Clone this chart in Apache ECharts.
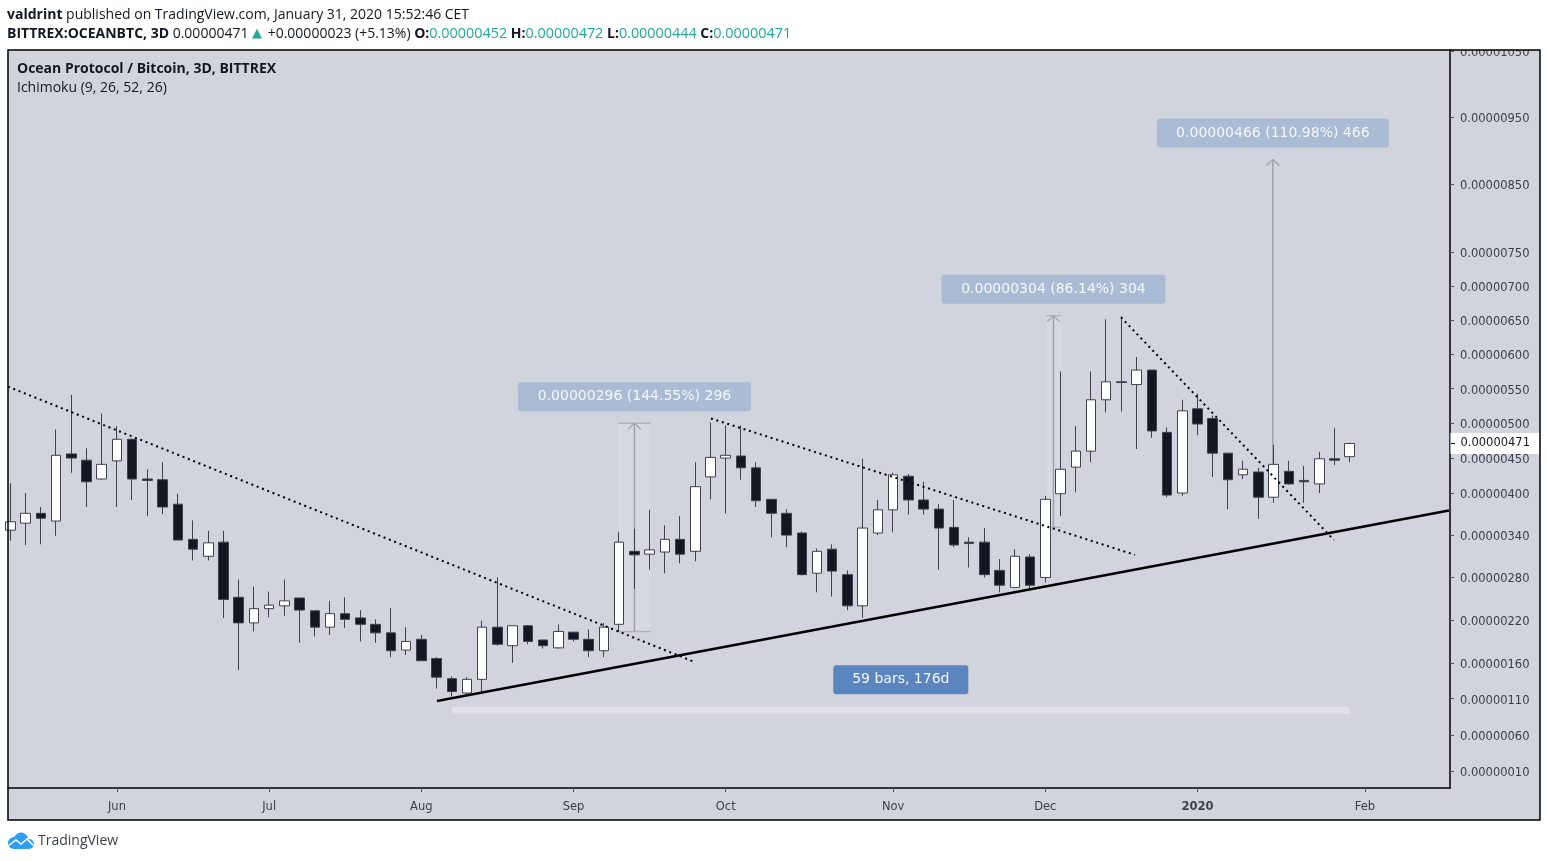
<!DOCTYPE html>
<html>
<head>
<meta charset="utf-8">
<title>OCEANBTC</title>
<script src="https://cdn.jsdelivr.net/npm/echarts@6/dist/echarts.min.js"></script>
<style>
html,body{margin:0;padding:0;background:#fff}
#chart{width:1547px;height:861px}
</style>
</head>
<body>
<div id="chart"></div>
<script>
// prices are in satoshi (1e-8 BTC), one entry per 3D bar
var opens = [347,357,371,360,456,447,420,446,477,420,419,384,334,310,330,252,216,236,240,251,233,210,229,223,214,202,178,193,166,138,118,137,210,184,212,192,181,203,193,177,214,317,313,316,334,317,423,450,453,436,391,371,343,286,320,284,240,343,376,424,390,377,351,330,330,290,266,309,280,399,437,460,534,560,556,577,487,400,521,507,457,426,430,394,431,418,413,449,452];
var closes = [359,371,364,454,450,416,441,477,420,418,380,333,320,329,249,216,236,241,247,234,210,229,221,214,202,177,190,163,140,120,137,210,186,212,190,184,204,193,177,210,330,312,319,334,313,409,451,454,436,389,371,340,284,317,289,240,350,376,426,390,377,350,326,328,284,269,310,269,391,434,460,534,560,559,577,489,397,518,499,457,419,434,394,441,413,416,449,447,471];
var highs = [414,400,380,491,541,464,514,496,478,434,444,399,361,346,346,277,267,260,277,251,233,247,252,234,221,237,210,199,168,141,140,219,280,212,213,192,214,203,207,216,344,349,376,354,367,444,501,497,497,444,391,377,345,321,327,290,449,390,429,427,416,384,390,337,350,306,320,313,396,575,496,575,651,655,596,577,494,534,543,511,457,446,436,469,446,439,459,493,472];
var lows = [332,326,327,339,429,380,419,380,390,367,370,333,304,304,223,150,204,224,226,188,197,199,209,190,188,168,171,163,124,113,116,120,184,160,186,180,180,190,168,168,203,264,291,286,300,303,391,371,419,380,337,323,283,259,253,234,223,340,344,369,369,291,323,294,280,259,265,263,273,367,401,444,516,517,463,479,394,396,483,423,377,420,363,386,412,386,400,440,444];

var priceTicks = [10,60,110,160,220,280,340,400,450,500,550,600,650,700,750,850,950,1050];
var lastPrice = 471;

// bar index of every labelled month on the time axis
var timeTickBars = [7,17,27,37,47,58,68,78,89];
var timeTickNames = ['Jun','Jul','Aug','Sep','Oct','Nov','Dec','2020','Feb'];

// trend lines as [bar index, price]
var trendSolid = [[28.03,107],[94.52,375]];
var trendDotted1 = [[-0.158,553],[44.98,161]];
var trendDotted2 = [[46.03,507],[73.89,312]];
var trendDotted3 = [[72.97,654],[86.97,333]];

// price range tools
var measureFrom = [39.92,68.04,82.95];
var measureTo = [42.09,69.03,82.95];
var measureLow = [204,351,421];
var measureHigh = [500,656,887];
var measureText = ['0.00000296 (144.55%) 296','0.00000304 (86.14%) 304','0.00000466 (110.98%) 466'];
var measureWidth = [233,224,232];

// date range tool
var rangeBars = [29.01,88.0];
var rangePrices = [89,99];
var rangeText = '59 bars, 176d';

// the price axis is very slightly compressed upward, like the original
var AXIS_SHIFT = 10500;
function toAxis(p){ return Math.log(p + AXIS_SHIFT); }
function fromAxis(v){ return Math.round(Math.exp(v) - AXIS_SHIFT); }
var AXIS_SPAN = 7630;

var FONT = '"Open Sans", sans-serif';
var TICK_FONT = '"DejaVu Sans", sans-serif';
var GREY = '#3f424d';
var TOOL = '#9fa2ac';

var candleData = opens.map(function(o,i){
    return [i,toAxis(o),toAxis(closes[i]),toAxis(lows[i]),toAxis(highs[i])];
});
function pts(a){ return a.map(function(d){ return [d[0],toAxis(d[1])]; }); }

var series = [{
    type:'line', silent:true, symbol:'none', data:[], z:1,
    markArea:{silent:true, itemStyle:{color:'rgba(255,255,255,0.3)'},
        data:[[{coord:[rangeBars[0],toAxis(rangePrices[0])]},{coord:[rangeBars[1],toAxis(rangePrices[1])]}]]}
}];
measureFrom.forEach(function(from,i){
    var to = measureTo[i], mid = (from+to)/2;
    var lo = toAxis(measureLow[i]), hi = toAxis(measureHigh[i]);
    if(to > from){
        series.push({type:'line', silent:true, symbol:'none', data:[], z:1,
            markArea:{silent:true, itemStyle:{color:'rgba(235,238,242,0.22)'}, data:[[{coord:[from,lo]},{coord:[to,hi]}]]}});
        series.push({type:'line', silent:true, symbol:'none', z:1, connectNulls:false,
            lineStyle:{color:'#b2b5be',width:1.5},
            data:[[from,hi],[to,hi],[null,null],[from,lo],[to,lo]]});
    }
    series.push({type:'line', silent:true, symbol:'none', z:1, lineStyle:{color:TOOL,width:1.5}, data:[[mid,lo],[mid,hi]]});
    series.push({type:'scatter', silent:true, z:1, symbol:'path://M0 8L8 0L16 8', symbolSize:[13,6], symbolOffset:[0,3],
        itemStyle:{color:'none',borderColor:TOOL,borderWidth:1,opacity:1}, data:[[mid,hi]]});
    series.push({type:'scatter', silent:true, z:6, symbolSize:1, itemStyle:{color:'none',opacity:1}, data:[[mid,hi]],
        label:{show:true, position:'inside', offset:[0,-26.5], formatter:measureText[i], width:measureWidth[i], height:27, lineHeight:27, padding:[2,0,0,0],
            align:'center', verticalAlign:'middle', backgroundColor:'#aabcd4', borderRadius:3, color:'#f4f6fa', fontFamily:TICK_FONT, fontSize:14}});
});
series.push({
    type:'candlestick', z:3, barWidth:10, data:candleData,
    itemStyle:{color:'#ffffff',color0:'#131722',borderColor:GREY,borderColor0:GREY,borderWidth:1}
});
series.push({type:'line',silent:true,symbol:'none',z:4,lineStyle:{color:'#000',width:2.5},data:pts(trendSolid)});
[trendDotted1,trendDotted2,trendDotted3].forEach(function(t){
    series.push({type:'line',silent:true,symbol:'none',z:4,lineStyle:{color:'#000',width:2,type:[2,3.7]},data:pts(t)});
});
series.push({type:'scatter', silent:true, z:6, symbolSize:1, itemStyle:{color:'none',opacity:1},
    data:[[(rangeBars[0]+rangeBars[1])/2,toAxis(rangePrices[1])]],
    label:{show:true, position:'inside', offset:[0,-27], formatter:rangeText, width:135, height:27, lineHeight:27, padding:[2,0,0,0],
        align:'center', verticalAlign:'middle', backgroundColor:'#5b85bf', borderRadius:3, color:'#f4f6fa', fontFamily:TICK_FONT, fontSize:14}});

var xMin = -0.158, xMax = 94.59;
// last price tag on the axis
series.push({type:'scatter', silent:true, clip:false, z:7, symbolSize:1, itemStyle:{color:'none',opacity:1},
    data:[[xMax,toAxis(lastPrice)]],
    label:{show:true, position:'right', distance:0, formatter:(lastPrice/1e8).toFixed(8), width:79, height:19, lineHeight:19,
        padding:[2,0,0,10], align:'left', backgroundColor:'#fff', color:'#131722', fontFamily:TICK_FONT, fontSize:11.5}});
series.push({type:'scatter', silent:true, clip:false, z:8, symbol:'rect', symbolSize:[4,1], symbolOffset:[3,0],
    itemStyle:{color:'#131722',opacity:1}, data:[[xMax,toAxis(lastPrice)]]});

var option = {
    animation:false,
    backgroundColor:'#fff',
    title:[{
        left:7, top:8, padding:0,
        text:'{b|valdrint} published on TradingView.com, January 31, 2020 15:52:46 CET',
        textStyle:{fontFamily:FONT,fontSize:14,fontWeight:'normal',color:'#131722',rich:{b:{fontFamily:FONT,fontSize:14,fontWeight:'bold',color:'#131722'}}}
    },{
        left:7, top:27, padding:0,
        text:'{b|BITTREX:OCEANBTC, 3D} 0.00000471 {t|▲} +0.00000023 (+5.13%) {b|O:}{g|0.00000452} {b|H:}{g|0.00000472} {b|L:}{g|0.00000444} {b|C:}{g|0.00000471}',
        textStyle:{fontFamily:FONT,fontSize:14,fontWeight:'normal',color:'#131722',rich:{
            b:{fontFamily:FONT,fontSize:14,fontWeight:'bold',color:'#131722'},
            t:{fontFamily:'"DejaVu Sans"',fontSize:13,color:'#26a69a',padding:[0,2,0,0]},
            g:{fontFamily:FONT,fontSize:14.4,color:'#26a69a'}}}
    },{
        left:17, top:62, padding:0,
        text:'Ocean Protocol / Bitcoin, 3D, BITTREX',
        textStyle:{fontFamily:FONT,fontSize:14,fontWeight:'bold',color:'#131722'}
    },{
        left:17, top:81, padding:0,
        text:'Ichimoku (9, 26, 52, 26)',
        textStyle:{fontFamily:FONT,fontSize:14,fontWeight:'normal',color:'#131722'}
    },{
        left:38, top:834, padding:0,
        text:'TradingView',
        textStyle:{fontFamily:FONT,fontSize:14,fontWeight:'normal',color:'#3b3f4a'}
    }],
    grid:{left:8,top:50,width:1442,height:738,show:false},
    xAxis:{
        type:'value', min:xMin, max:xMax, splitLine:{show:false},
        axisLine:{onZero:false,lineStyle:{color:'#000',width:1.5}},
        axisTick:{show:true,length:4,customValues:timeTickBars,lineStyle:{color:'#50535e'}},
        axisLabel:{show:true,customValues:timeTickBars,margin:11,padding:[2,0,0,0],fontFamily:TICK_FONT,fontSize:11.5,color:'#3b3f4a',
            formatter:function(v){
                var name = timeTickNames[timeTickBars.indexOf(v)];
                return name === '2020' ? '{y|2020}' : name;
            },
            rich:{y:{fontFamily:TICK_FONT,fontSize:11.5,fontWeight:'bold',color:'#3b3f4a'}}}
    },
    yAxis:{
        type:'value', position:'right', splitLine:{show:false},
        min:toAxis(10)-17/AXIS_SPAN, max:toAxis(10)+721/AXIS_SPAN,
        axisLine:{show:true,onZero:false,lineStyle:{color:'#000',width:1.5}},
        axisTick:{show:true,length:4,customValues:priceTicks.map(toAxis),lineStyle:{color:'#50535e'}},
        axisLabel:{show:true,customValues:priceTicks.map(toAxis),margin:10,fontFamily:TICK_FONT,fontSize:11.5,color:'#3b3f4a',
            formatter:function(v){ return '{p|' + (fromAxis(v)/1e8).toFixed(8) + '}'; },
            rich:{p:{fontFamily:TICK_FONT,fontSize:11.5,color:'#3b3f4a',padding:[4,0,0,0]}}}
    },
    graphic:[
        {type:'rect',z:-1,shape:{x:8,y:50,width:1532,height:770},style:{fill:'#d1d4dc'}},
        {type:'rect',z:100,shape:{x:1452,y:40,width:88,height:10},style:{fill:'#fff'}},
        {type:'rect',z:101,shape:{x:8,y:50,width:1532,height:770},style:{fill:'none',stroke:'#000',lineWidth:1.5}},
        // TradingView cloud
        {type:'circle',z:101,shape:{cx:14,cy:843,r:6},style:{fill:'#2e9ef4'}},
        {type:'circle',z:101,shape:{cx:21,cy:839.5,r:7},style:{fill:'#2e9ef4'}},
        {type:'circle',z:101,shape:{cx:29,cy:844,r:5},style:{fill:'#2e9ef4'}},
        {type:'rect',z:101,shape:{x:14,y:842,width:15,height:7},style:{fill:'#2e9ef4'}},
        {type:'polyline',z:102,shape:{points:[[8,846],[16,840],[21,844],[27,839],[34,846]]},style:{stroke:'#fff',lineWidth:1.5,fill:'none'}}
    ],
    series:series
};

var myChart = echarts.init(document.getElementById('chart'));
myChart.setOption(option);
</script>
</body>
</html>
